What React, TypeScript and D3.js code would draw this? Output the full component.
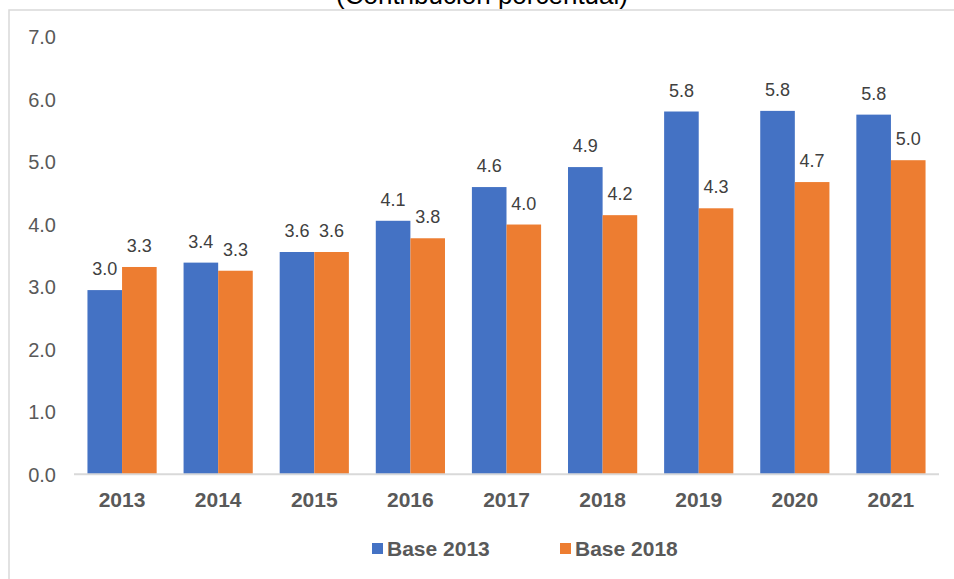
import React from "react";
import * as d3 from "d3";

const years = ["2013", "2014", "2015", "2016", "2017", "2018", "2019", "2020", "2021"];
const base2013 = [2.95, 3.39, 3.56, 4.06, 4.6, 4.92, 5.81, 5.82, 5.76];
const base2018 = [3.32, 3.26, 3.56, 3.78, 4.0, 4.15, 4.26, 4.68, 5.03];
const labels2013 = ["3.0", "3.4", "3.6", "4.1", "4.6", "4.9", "5.8", "5.8", "5.8"];
const labels2018 = ["3.3", "3.3", "3.6", "3.8", "4.0", "4.2", "4.3", "4.7", "5.0"];
const yTicks = [0, 1, 2, 3, 4, 5, 6, 7];
const seriesNames = ["Base 2013", "Base 2018"];
const colors = ["#4472C4", "#ED7D31"];
const title = "(Contribución porcentual)";

const W = 954;
const H = 579;
const FONT = "'Liberation Sans', Arial, sans-serif";

export default function App() {
  const x = d3.scaleBand<string>().domain(years).range([74, 939]).paddingInner(0.28).paddingOuter(0.14);
  const sub = d3.scaleBand<number>().domain([0, 1]).range([0, x.bandwidth()]);
  const y = d3.scaleLinear().domain([0, 7]).range([474.3, 37.2]);
  const series = [base2013, base2018];
  const labels = [labels2013, labels2018];

  return (
    <svg width={W} height={H} style={{ position: "absolute", left: 0, top: 0, background: "#fff" }} fontFamily={FONT}>
      <rect x={0} y={0} width={W} height={H} fill="#fff" />
      <text x={482} y={4} textAnchor="middle" fontSize={26} fill="#000">{title}</text>
      <rect x={9} y={10} width={1000} height={1000} fill="none" stroke="#D9D9D9" strokeWidth={1.5} />
      {yTicks.map((t) => (
        <text key={t} x={56} y={y(t) + 2} dominantBaseline="middle" textAnchor="end" fontSize={20} fill="#595959">
          {t.toFixed(1)}
        </text>
      ))}
      {series.map((vals, si) =>
        vals.map((v, i) => {
          const bx = (x(years[i]) ?? 0) + (sub(si) ?? 0);
          return (
            <g key={`${si}-${i}`}>
              <rect x={bx} y={y(v)} width={sub.bandwidth()} height={y(0) - y(v)} fill={colors[si]} />
              <text x={bx + sub.bandwidth() / 2} y={y(v) - 15} textAnchor="middle" fontSize={18} fill="#404040">
                {labels[si][i]}
              </text>
            </g>
          );
        })
      )}
      <line x1={74} x2={939} y1={474.3} y2={474.3} stroke="#D9D9D9" strokeWidth={2} />
      {years.map((yr) => (
        <text key={yr} x={(x(yr) ?? 0) + x.bandwidth() / 2} y={507} textAnchor="middle" fontSize={21} fontWeight="bold" fill="#595959">
          {yr}
        </text>
      ))}
      {seriesNames.map((n, i) => {
        const lx = [372, 560][i];
        return (
          <g key={n}>
            <rect x={lx} y={543} width={11} height={11} fill={colors[i]} />
            <text x={lx + 15} y={555.7} fontSize={21} fontWeight="bold" fill="#595959">{n}</text>
          </g>
        );
      })}
    </svg>
  );
}
